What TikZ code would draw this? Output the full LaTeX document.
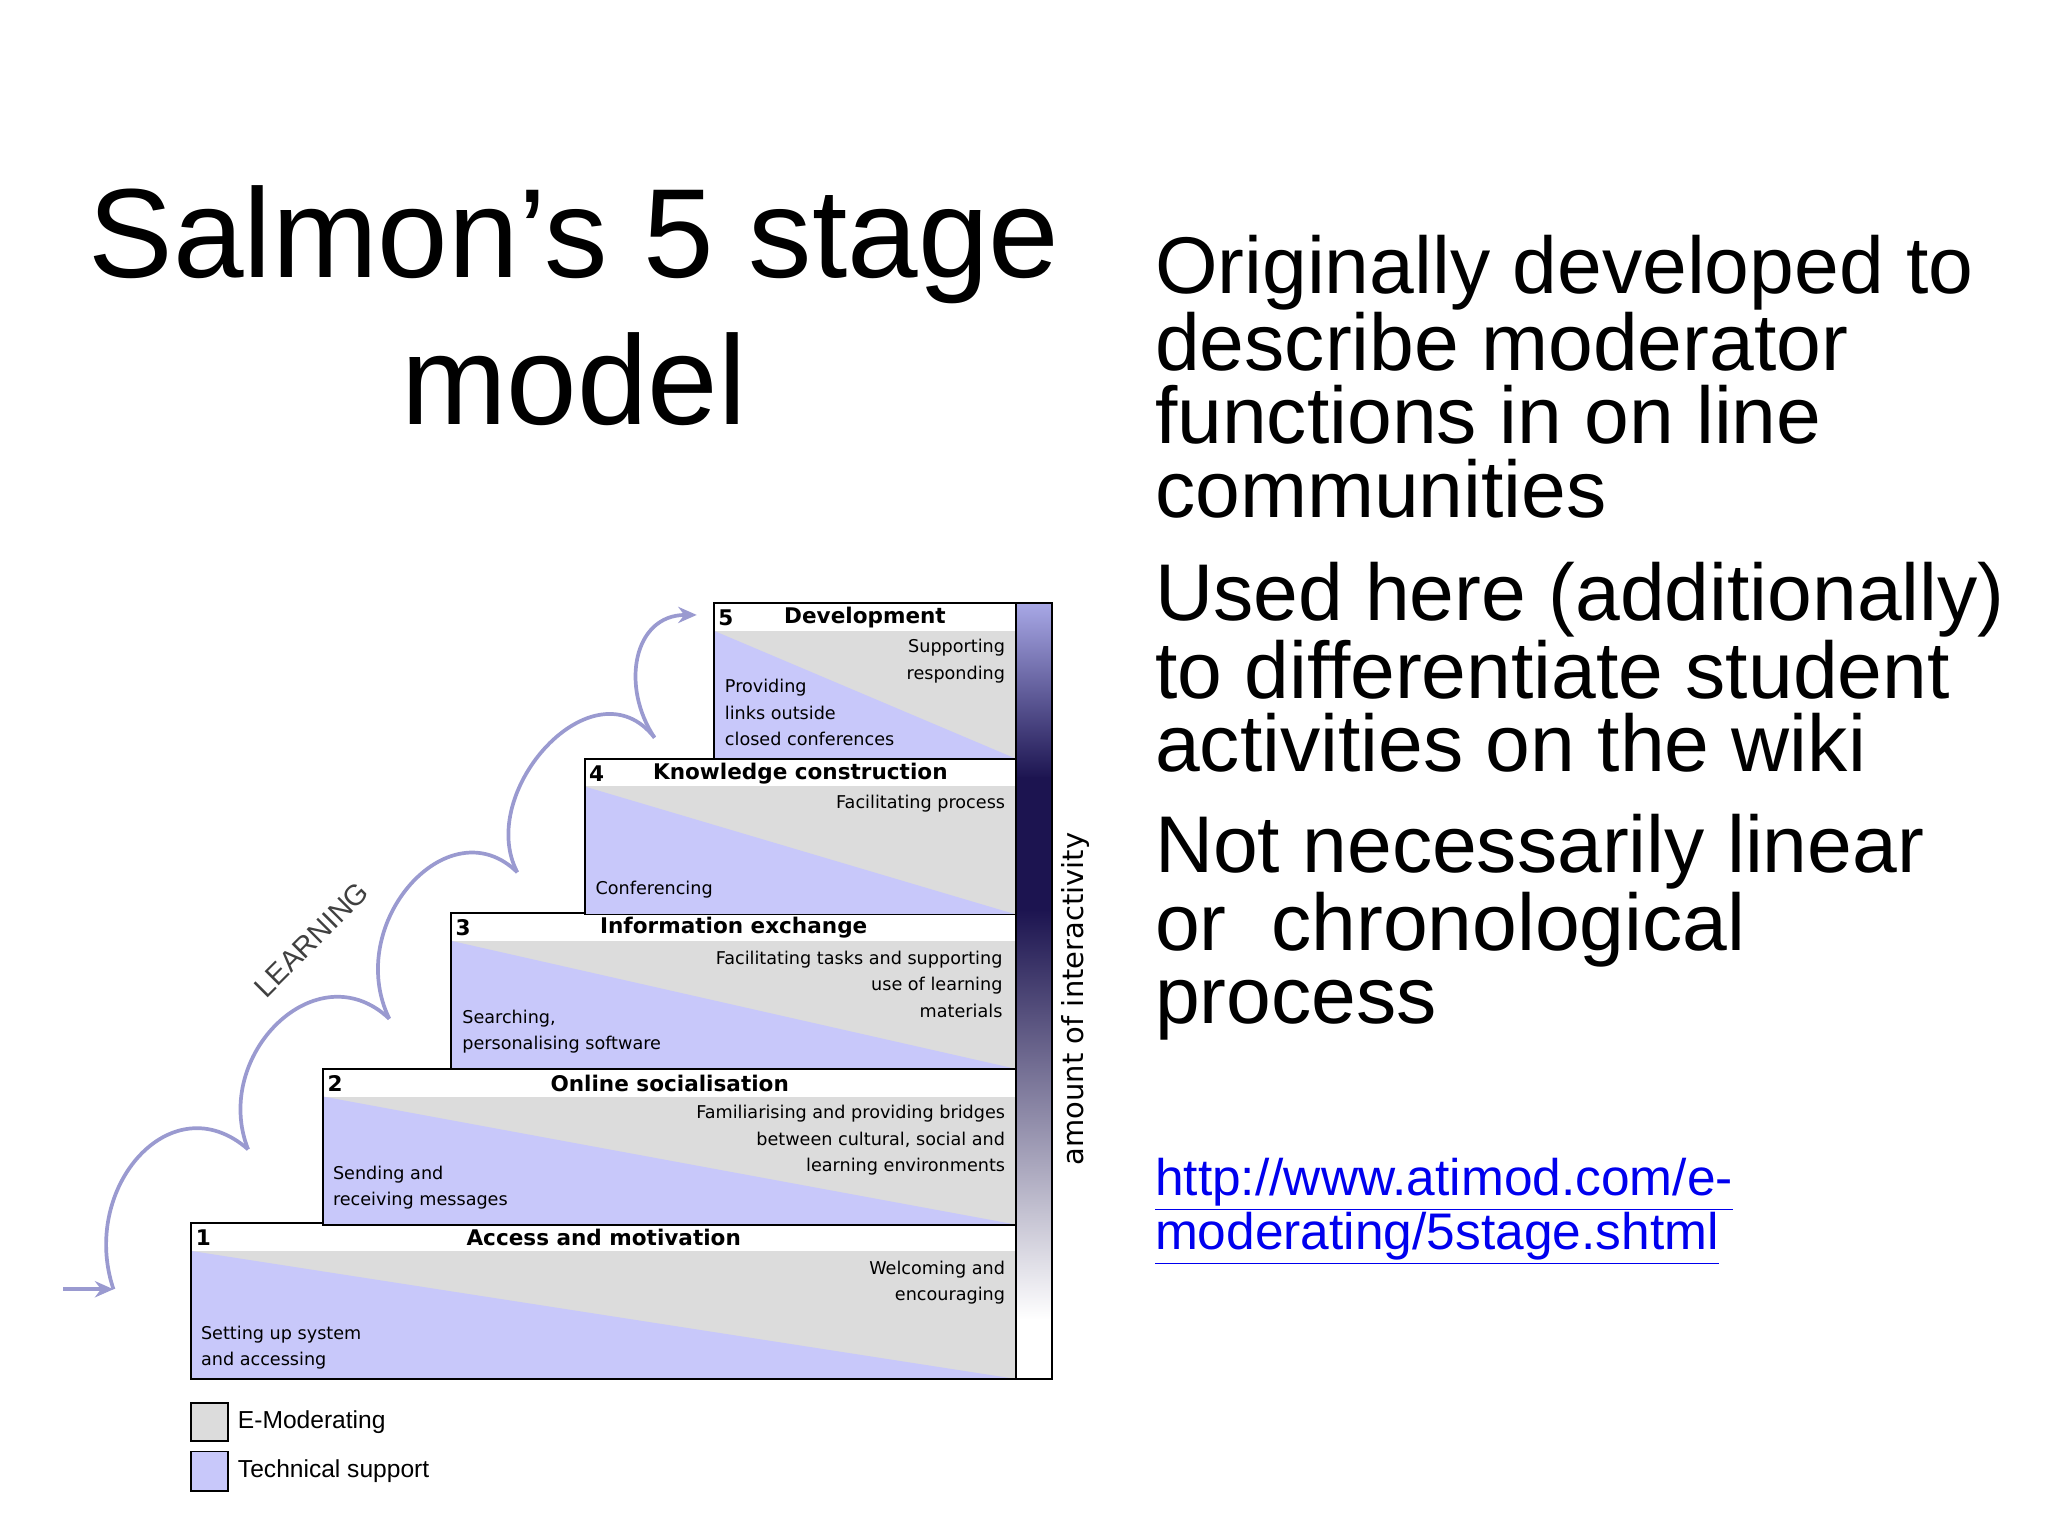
\documentclass[tikz,border=0pt]{standalone}
\usepackage{fontspec}
\usetikzlibrary{arrows.meta}
\setmainfont{Liberation Sans}
\newfontfamily\dfont{DejaVu Sans}
\definecolor{emod}{HTML}{DCDCDC}
\definecolor{tech}{HTML}{C8C8FA}
\definecolor{navy}{HTML}{1C1450}
\definecolor{barlt}{HTML}{A8A8E6}
\definecolor{arr}{HTML}{9A9AD0}
\definecolor{url}{HTML}{0000EE}
\begin{document}
\begin{tikzpicture}[x=0.02cm,y=-0.02cm,
  hdr/.style={font=\dfont\bfseries\fontsize{9.3}{11}\selectfont},
  sm/.style={font=\dfont\fontsize{7.6}{11.3}\selectfont,inner sep=0pt},
  big/.style={font=\fontsize{34.7}{31.5}\selectfont,align=left,anchor=north west,inner sep=0pt},
  lrn/.style={draw=arr,line width=1.6pt}]
\useasboundingbox (0,0) rectangle (1552,1164);
% title
\node[font=\fontsize{54.7}{56}\selectfont,align=center,anchor=base] (t1) at (435,210) {Salmon’s 5 stage};
\node[font=\fontsize{54.7}{56}\selectfont,anchor=base] (t2) at (435,322) {model};
% right text
\node[big] (p1) at (875,178) {Originally developed to\\describe moderator\\functions in on line\\communities};
\node[big] (p2) at (875,426) {Used here (additionally)\\to differentiate student\\activities on the wiki};
\node[big] (p3) at (875,617) {Not necessarily linear\\or\ \ chronological\\process};
\node[font=\fontsize{22.2}{18.5}\selectfont,text=url,align=left,anchor=north west,inner sep=0pt] (u) at (875,877) {\underline{http://www.atimod.com/e-}\\\underline{moderating/5stage.shtml}};
% boxes
\foreach \x/\t/\n/\ttl in {145/927/1/Access and motivation,245/810/2/Online socialisation,342/692/3/Information exchange,443/575/4/Knowledge construction,541/457/5/Development}{
  \fill[emod] (\x,\t+21) rectangle (770,\t+118);
  \fill[tech] (\x,\t+21) -- (770,\t+118) -- (\x,\t+118) -- cycle;
  \draw[black,line width=0.8pt] (\x,\t) rectangle (770,\t+118);
  \node[hdr,anchor=west,inner sep=0pt] (n\n) at (\x+3,\t+11) {\n};
  \node[hdr,inner sep=0pt] (h\n) at ({(\x+770)/2},\t+11) {\ttl};
}
% bar
\shade[top color=barlt,bottom color=navy] (770,457) rectangle (797,590);
\fill[navy] (770,589) rectangle (797,690);
\shade[top color=navy,bottom color=white] (770,689) rectangle (797,1000);
\draw[line width=0.8pt] (770,457) rectangle (797,1045);
\node[font=\dfont\fontsize{12.5}{12}\selectfont,rotate=90] (ai) at (815,757) {amount of interactivity};
% stage texts
\node[sm,align=right,anchor=east] (a5) at (762,501) {Supporting\\responding};
\node[sm,align=left,anchor=west] (b5) at (549,540) {Providing\\links outside\\closed conferences};
\node[sm,anchor=east] (a4) at (762,609) {Facilitating process};
\node[sm,anchor=west] (b4) at (451,674) {Conferencing};
\node[sm,align=right,anchor=east] (a3) at (760,746) {Facilitating tasks and supporting\\use of learning\\materials};
\node[sm,align=left,anchor=west] (b3) at (350,782) {Searching,\\personalising software};
\node[sm,align=right,anchor=east] (a2) at (762,864) {Familiarising and providing bridges\\between cultural, social and\\learning environments};
\node[sm,align=left,anchor=west] (b2) at (252,900) {Sending and\\receiving messages};
\node[sm,align=right,anchor=east] (a1) at (762,972) {Welcoming and\\encouraging};
\node[sm,align=left,anchor=west] (b1) at (152,1021) {Setting up system\\and accessing};
% legend
\draw[fill=emod,line width=0.8pt] (145,1063) rectangle (173,1092);
\draw[fill=tech,line width=0.8pt] (145,1100) rectangle (173,1130);
\node[font=\fontsize{10.6}{12}\selectfont,anchor=west,inner sep=0pt] (l1) at (180,1078) {E-Moderating};
\node[font=\fontsize{10.6}{12}\selectfont,anchor=west,inner sep=0pt] (l2) at (180,1115) {Technical support};
% learning arrow
\coordinate (s0) at (48,977);
\coordinate (c0) at (86,977);
\coordinate (c1) at (188,871);
\coordinate (c2) at (295,772);
\coordinate (c3) at (392,661);
\coordinate (c4) at (496,559);
\coordinate (e) at (528,466);
\draw[lrn,-{Stealth[length=8pt,width=7pt]}] (s0) -- (c0);
\draw[lrn] (c0) .. controls (60,900) and (130,820) .. (c1);
\draw[lrn] (c1) .. controls (160,800) and (240,720) .. (c2);
\draw[lrn] (c2) .. controls (260,700) and (340,610) .. (c3);
\draw[lrn] (c3) .. controls (360,600) and (450,500) .. (c4);
\draw[lrn,-{Stealth[length=8pt,width=7pt]}] (c4) .. controls (470,520) and (480,466) .. (e);
\node[font=\fontsize{12.5}{13}\selectfont,rotate=45,text=black!75] (lg) at (236,712) {LEARNING};
\end{tikzpicture}
\end{document}
